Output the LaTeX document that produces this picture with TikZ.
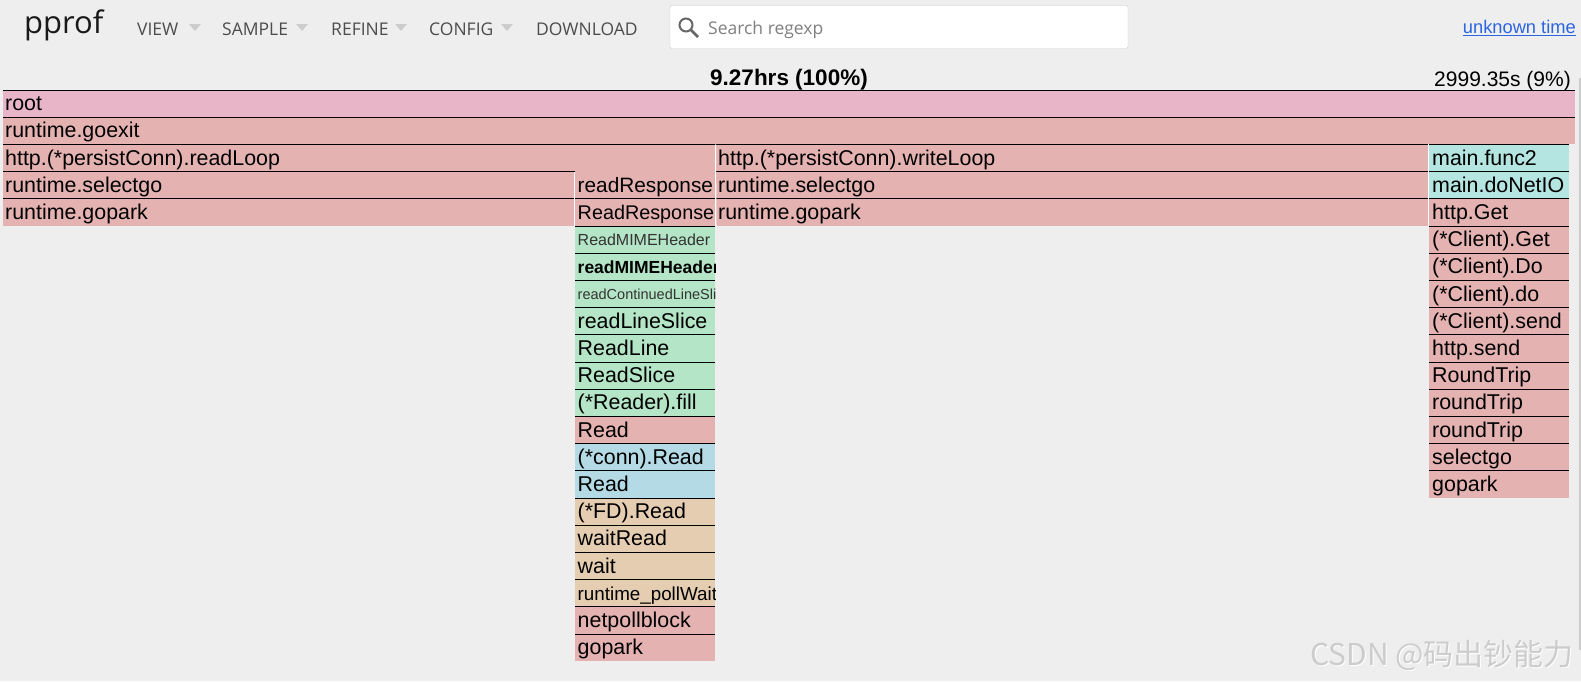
\documentclass[tikz,border=0pt]{standalone}
\usepackage{fontspec}
\usepackage{xcolor}
\usetikzlibrary{positioning,calc}
\setmainfont{Liberation Sans}
\newfontfamily\menufont{Open Sans}
\newfontfamily\markfont{Noto Sans CJK SC}

\definecolor{pagebg}{HTML}{EEEEEE}
\definecolor{frroot}{HTML}{E8B4C8}
\definecolor{frpink}{HTML}{E5B2B2}
\definecolor{frgreen}{HTML}{B4E5C6}
\definecolor{frteal}{HTML}{B4E5E1}
\definecolor{frblue}{HTML}{B4DBE5}
\definecolor{frtan}{HTML}{E5CDB2}

\tikzset{
  frame/.style={anchor=north west, inner sep=0pt, outer sep=0pt, minimum height=27.2pt},
  topline/.style={black, line width=1pt},
  sepline/.style={white, line width=1pt},
  labnorm/.style={anchor=base west, inner sep=0pt, font=\fontsize{21.4}{24}\selectfont},
  labread/.style={anchor=base west, inner sep=0pt, font=\fontsize{20.8}{24}\selectfont},
  labcaps/.style={anchor=base west, inner sep=0pt, font=\fontsize{19.8}{24}\selectfont},
  labthin/.style={anchor=base west, inner sep=0pt, text=black!80, yshift=1pt, font=\fontsize{16}{18}\selectfont},
  labbold/.style={anchor=base west, inner sep=0pt, font=\fontsize{17.5}{20}\selectfont\bfseries},
  labtiny/.style={anchor=base west, inner sep=0pt, text=black!80, yshift=1.5pt, font=\fontsize{14.5}{16}\selectfont},
  labpoll/.style={anchor=base west, inner sep=0pt, font=\fontsize{18.8}{20}\selectfont},
  menu/.style={anchor=base west, inner sep=0pt, text=black!70, font=\menufont\fontsize{17.5}{20}\selectfont},
  menutri/.style={fill=black!20, draw=none}
}

\begin{document}
\begin{tikzpicture}[x=1pt,y=-1pt]
  \useasboundingbox (0,0) rectangle (1581,681);
  \fill[pagebg] (0,0) rectangle (1581,681);
  \fill[black!20] (1579,78) rectangle (1581,650);

  % Top bar
  \node[anchor=base west, inner sep=0pt, text=black!90, font=\menufont\fontsize{31}{34}\selectfont] (logo) at (24,33) {pprof};
  \foreach \x/\lab/\tx in {137/VIEW/189, 222/SAMPLE/296, 331/REFINE/395, 429/CONFIG/501} {
    \node[menu] (m\lab) at (\x,35) {\lab};
    \fill[menutri] (\tx,24) -- (\tx+12,24) -- (\tx+6,31) -- cycle;
  }
  \node[menu] (mDOWNLOAD) at (536,35) {DOWNLOAD};

  % Search box
  \draw[black!20, fill=white, rounded corners=1.5pt] (670,5.5) rectangle (1128,48.5);
  \draw[black!60, line width=2pt] (686,25) circle (6.5pt);
  \draw[black!60, line width=2.5pt] (691,30) -- (698,37);
  \node[anchor=base west, inner sep=0pt, text=black!50, font=\menufont\fontsize{17.5}{20}\selectfont] (search) at (708,34) {Search regexp};

  \node[anchor=base east, inner sep=0pt, text={rgb,255:red,42;green,102;blue,224}, font=\fontsize{18.3}{20}\selectfont] (unknown) at (1576,33.5) {\underline{unknown time}};

  % Totals
  \node[anchor=base, inner sep=0pt, font=\fontsize{22.5}{24}\selectfont\bfseries] (total) at (789,85) {9.27hrs (100\%)};
  \node[anchor=base east, inner sep=0pt, font=\fontsize{21}{24}\selectfont] (part) at (1571,86) {2999.35s (9\%)};

  % Wide frames
  \foreach \name/\x/\k/\w/\lab/\colr in {
      root/3/0/1572/root/frroot, goexit/3/1/1572/runtime.goexit/frpink,
      readLoop/3/2/712.5/{http.(*persistConn).readLoop}/frpink,
      writeLoop/716/2/712.5/{http.(*persistConn).writeLoop}/frpink,
      selA/3/3/571.5/runtime.selectgo/frpink, parkA/3/4/571.5/runtime.gopark/frpink,
      selB/716/3/712.5/runtime.selectgo/frpink, parkB/716/4/712.5/runtime.gopark/frpink} {
    \pgfmathsetmacro\ty{90+27.2*\k}
    \node[frame, fill=\colr, minimum width=\w pt] (\name) at (\x,\ty) {};
    \draw[topline] (\name.north west) -- (\name.north east);
    \node[labnorm] at ($(\name.south west)+(2,-6.5)$) {\lab};
  }

  % Middle column
  \begin{scope}
    \clip (575,172) rectangle (715,662);
    \foreach \lab/\colr/\st [count=\k from 3] in {
        readResponse/frpink/labread, ReadResponse/frpink/labcaps,
        ReadMIMEHeader/frgreen/labthin, readMIMEHeader/frgreen/labbold,
        readContinuedLineSlice/frgreen/labtiny, readLineSlice/frgreen/labnorm,
        ReadLine/frgreen/labnorm, ReadSlice/frgreen/labnorm,
        {(*Reader).fill}/frgreen/labnorm, Read/frpink/labnorm,
        {(*conn).Read}/frblue/labnorm, Read/frblue/labnorm,
        {(*FD).Read}/frtan/labnorm, waitRead/frtan/labnorm, wait/frtan/labnorm,
        runtime\_pollWait/frtan/labpoll, netpollblock/frpink/labnorm, gopark/frpink/labnorm} {
      \pgfmathsetmacro\ty{90+27.2*\k}
      \node[frame, fill=\colr, minimum width=140pt] (mid\k) at (575,\ty) {};
      \draw[topline] (mid\k.north west) -- (mid\k.north east);
      \node[\st] at ($(mid\k.south west)+(2.5,-6.5)$) {\lab};
    }
  \end{scope}

  % Right column
  \foreach \lab/\colr [count=\k from 2] in {
      main.func2/frteal, main.doNetIO/frteal, http.Get/frpink,
      {(*Client).Get}/frpink, {(*Client).Do}/frpink, {(*Client).do}/frpink,
      {(*Client).send}/frpink, http.send/frpink, RoundTrip/frpink, roundTrip/frpink,
      roundTrip/frpink, selectgo/frpink, gopark/frpink} {
    \pgfmathsetmacro\ty{90+27.2*\k}
    \node[frame, fill=\colr, minimum width=139.7pt] (rgt\k) at (1429,\ty) {};
    \draw[topline] (rgt\k.north west) -- (rgt\k.north east);
    \node[labnorm] at ($(rgt\k.south west)+(3,-6.5)$) {\lab};
  }

  % White gaps between neighbours
  \draw[sepline] (selA.north east) -- (parkA.south east);
  \draw[sepline] (readLoop.north east) -- (parkB.south west);
  \draw[sepline] (writeLoop.north east) -- (parkB.south east);

  % Watermark
  \node[anchor=base east, inner sep=0pt, text=white, font=\markfont\fontsize{30}{32}\selectfont] at (1575,666) {CSDN @码出钞能力};
  \node[anchor=base east, inner sep=0pt, text=black!20, font=\markfont\fontsize{30}{32}\selectfont] (mark) at (1574,665) {CSDN @码出钞能力};
\end{tikzpicture}
\end{document}
